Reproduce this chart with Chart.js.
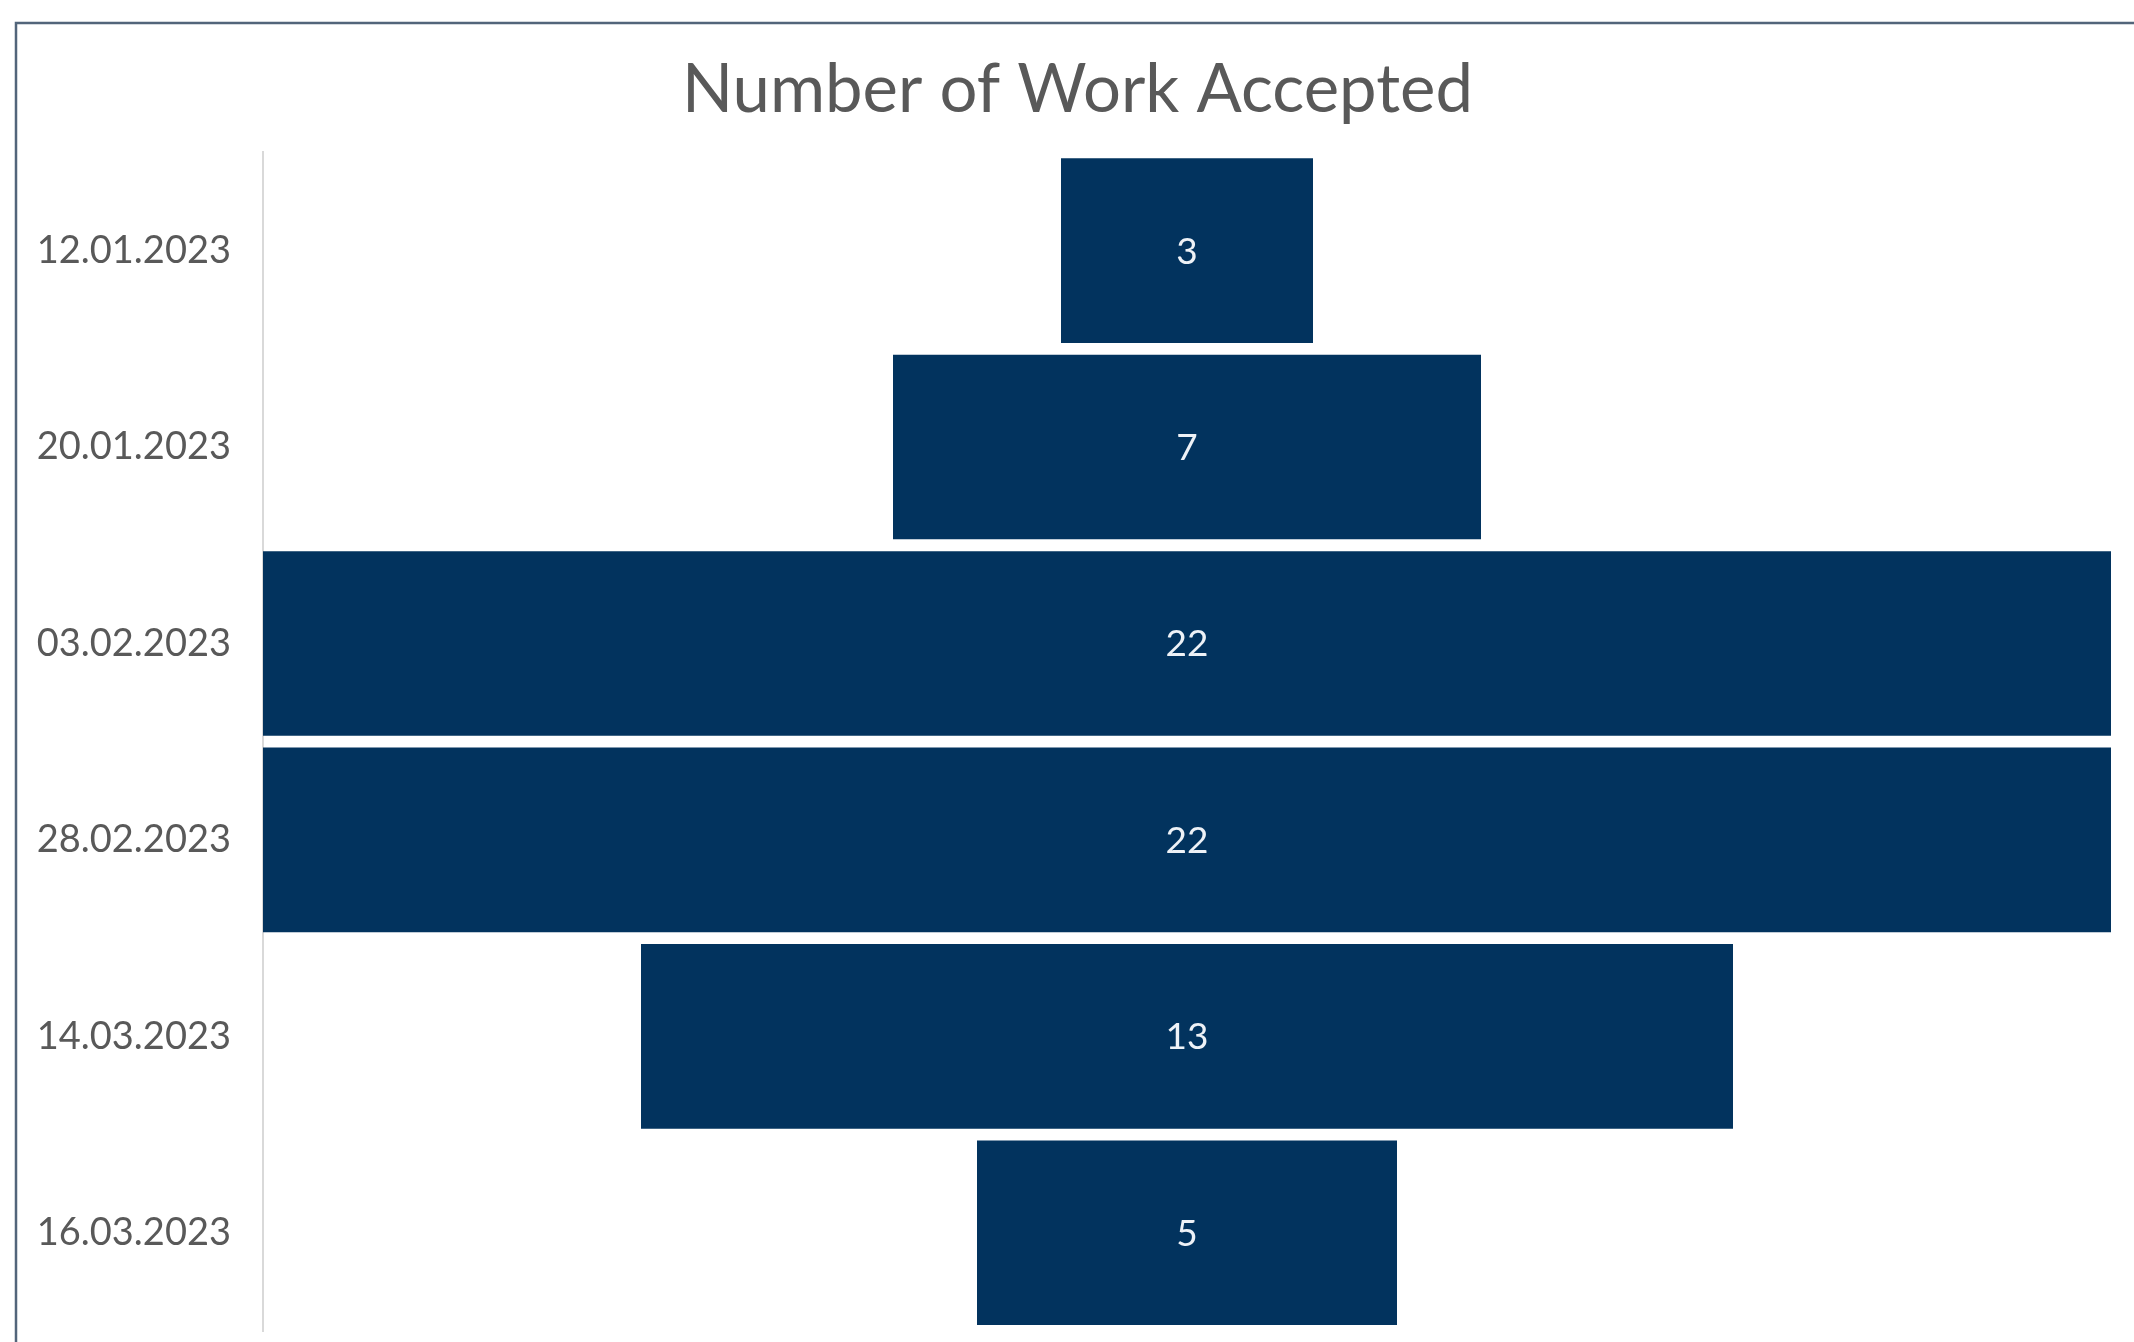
<!DOCTYPE html>
<html>
<head>
<meta charset="utf-8">
<script src="https://cdn.jsdelivr.net/npm/chart.js@4"></script>
<style>
  html, body { margin: 0; padding: 0; background: #fff; }
  #wrap { width: 2134px; height: 1342px; }
</style>
</head>
<body>
<div id="wrap"><canvas id="chart" width="2134" height="1342"></canvas></div>
<script>
// ---- data ----
const dates = ["12.01.2023", "20.01.2023", "03.02.2023", "28.02.2023", "14.03.2023", "16.03.2023"];
const accepted = [3, 7, 22, 22, 13, 5];

const barColor = "#02335e";
const textGray = "#595959";

// funnel: every bar is centred on zero
const half = Math.max(...accepted) / 2;
const spans = accepted.map((v) => [-v / 2, v / 2]);

// frame lines of the pasted screenshot + white background
const framePlugin = {
  id: "frame",
  beforeDraw(chart) {
    const ctx = chart.ctx;
    ctx.save();
    ctx.fillStyle = "#ffffff";
    ctx.fillRect(0, 0, chart.width, chart.height);
    ctx.strokeStyle = "#52657a";
    ctx.lineWidth = 2.5;
    ctx.beginPath();
    ctx.moveTo(16, chart.height);
    ctx.lineTo(16, 23);
    ctx.lineTo(chart.width, 23);
    ctx.stroke();
    ctx.restore();
  },
  // left padding only centres the title; let the date labels use that space
  afterLayout(chart) {
    chart.scales.y.left = 18;
  },
};

// value labels in the middle of each bar
const valueLabels = {
  id: "valueLabels",
  afterDatasetsDraw(chart) {
    const ctx = chart.ctx;
    const meta = chart.getDatasetMeta(0);
    ctx.save();
    ctx.fillStyle = "#eef2f7";
    ctx.font = "37px Lato";
    ctx.textAlign = "center";
    ctx.textBaseline = "middle";
    meta.data.forEach((bar, i) => {
      const { x, y, base } = bar.getProps(["x", "y", "base"], true);
      ctx.fillText(String(accepted[i]), (x + base) / 2, y + 1);
    });
    ctx.restore();
  },
};

new Chart(document.getElementById("chart"), {
  type: "bar",
  data: {
    labels: dates,
    datasets: [
      {
        label: "Number of Work Accepted",
        data: spans,
        backgroundColor: barColor,
        borderWidth: 0,
        categoryPercentage: 1,
        barPercentage: 0.94,
      },
    ],
  },
  options: {
    indexAxis: "y",
    responsive: false,
    animation: false,
    layout: { padding: { top: 0, left: 44, right: 23, bottom: 11 } },
    plugins: {
      legend: { display: false },
      tooltip: { enabled: false },
      title: {
        display: true,
        text: "Number of Work Accepted",
        color: textGray,
        font: { family: "Lato", size: 67, weight: "normal" },
        padding: { top: 50, bottom: 22 },
      },
    },
    scales: {
      x: {
        display: false,
        min: -half,
        max: half,
      },
      y: {
        afterFit(scale) {
          scale.width = 219;
          scale.paddingTop = 0;
          scale.paddingBottom = 0;
        },
        grid: { display: false, drawTicks: false },
        border: { display: true, color: "#d9d9d9", width: 2 },
        ticks: {
          color: textGray,
          padding: 32,
          font: { family: "Lato", size: 38 },
        },
      },
    },
  },
  plugins: [framePlugin, valueLabels],
});
</script>
</body>
</html>
